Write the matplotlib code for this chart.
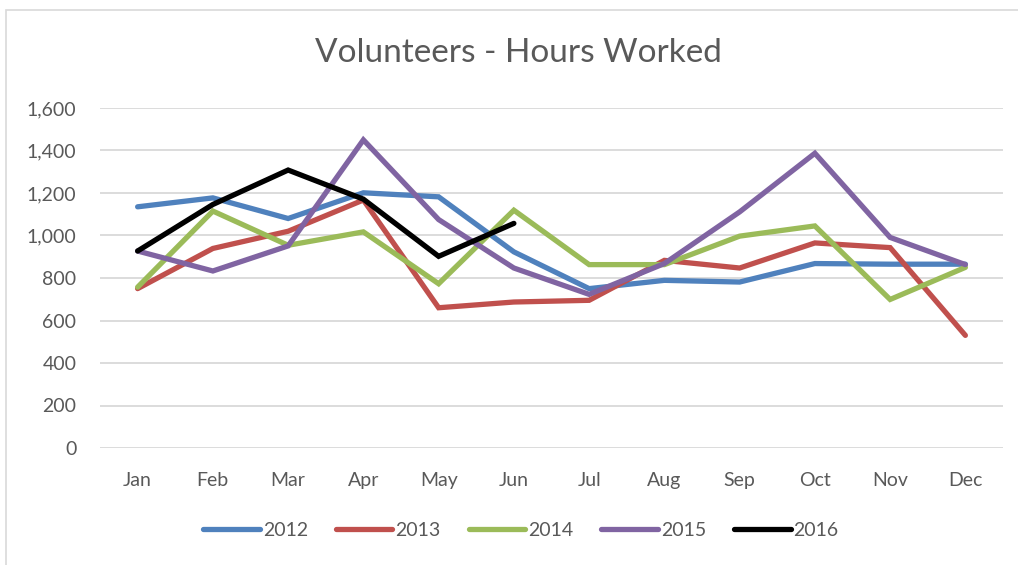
import matplotlib
matplotlib.use("Agg")
import matplotlib.pyplot as plt
from matplotlib.patches import Rectangle
from matplotlib.ticker import FuncFormatter

plt.rcParams['font.family'] = ['Lato', 'DejaVu Sans']

months = ['Jan', 'Feb', 'Mar', 'Apr', 'May', 'Jun',
          'Jul', 'Aug', 'Sep', 'Oct', 'Nov', 'Dec']

hours_2012 = [1135, 1177, 1080, 1201, 1182, 923, 750, 789, 781, 868, 865, 865]
hours_2013 = [750, 939, 1020, 1167, 660, 687, 695, 883, 847, 965, 943, 530]
hours_2014 = [757, 1115, 954, 1017, 773, 1119, 863, 863, 997, 1045, 699, 850]
hours_2015 = [927, 833, 951, 1450, 1075, 847, 723, 868, 1111, 1387, 991, 863]
hours_2016 = [927, 1146, 1308, 1171, 902, 1057]

series = [
    ('2012', hours_2012, '#4F81BD'),
    ('2013', hours_2013, '#C0504D'),
    ('2014', hours_2014, '#9BBB59'),
    ('2015', hours_2015, '#8064A2'),
    ('2016', hours_2016, '#000000'),
]

text_color = '#595959'

fig = plt.figure(figsize=(10.18, 5.65), dpi=100)

# light chart frame (cut off on the right and bottom like the screenshot)
fig.patches.append(Rectangle((6 / 1018, -0.1), 1.2, 1 - 10 / 565 + 0.1,
                             transform=fig.transFigure, fill=False,
                             edgecolor='#D9D9D9', linewidth=1.2))

ax = fig.add_axes([100 / 1018, 117 / 565, 903 / 1018, 340 / 565])

for name, values, color in series:
    ax.plot(range(len(values)), values, color=color, linewidth=3.8,
            label=name, solid_capstyle='round', solid_joinstyle='miter')

ax.set_xlim(-0.5, 11.5)
ax.set_ylim(0, 1600)
ax.set_yticks(range(0, 1601, 200))
ax.yaxis.set_major_formatter(FuncFormatter(lambda v, p: f'{int(v):,}'))
ax.set_xticks(range(12))
ax.set_xticklabels(months)

ax.grid(axis='y', color='#D9D9D9', linewidth=1.3)
ax.set_axisbelow(True)
for s in ax.spines.values():
    s.set_visible(False)
ax.tick_params(axis='both', length=0, labelsize=14, labelcolor=text_color)
ax.tick_params(axis='y', pad=17)
ax.tick_params(axis='x', pad=17)

fig.text(0.509, 1 - 53 / 565, 'Volunteers - Hours Worked', ha='center',
         va='center', fontsize=24, color=text_color)

leg = fig.legend(loc='center', bbox_to_anchor=(521 / 1018, 1 - 530 / 565),
                 ncol=5, frameon=False, fontsize=14, handlelength=2.9,
                 handletextpad=0.15, columnspacing=1.45)
for t in leg.get_texts():
    t.set_color(text_color)

fig.savefig('out.png', dpi=100)
